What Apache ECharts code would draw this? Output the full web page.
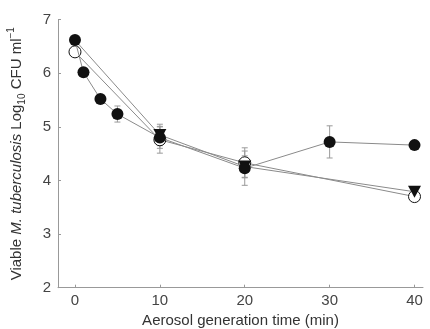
<!DOCTYPE html>
<html><head><meta charset="utf-8">
<script src="https://cdn.jsdelivr.net/npm/echarts@6/dist/echarts.min.js"></script>
<style>html,body{margin:0;padding:0;background:#fff}#c{width:430px;height:329px}</style>
</head><body><div id="c"></div>
<script>
// Data
var timeFilled = [0, 1, 3, 5, 10, 20, 30, 40];
var valFilled  = [6.62, 6.02, 5.52, 5.24, 4.80, 4.23, 4.72, 4.66];
var errFilled  = [0.05, 0.08, 0.05, 0.15, 0.2, 0.32, 0.3, 0.05];
var timeTri = [0, 10, 20, 40];
var valTri  = [6.62, 4.85, 4.26, 3.79];
var errTri  = [0.05, 0.2, 0.2, 0.05];
var timeOpen = [0, 10, 20, 40];
var valOpen  = [6.40, 4.76, 4.33, 3.70];
var errOpen  = [0.05, 0.25, 0.28, 0.05];
var xTicks = [0, 10, 20, 30, 40];

function pts(t, v) { return t.map(function (x, i) { return [x, v[i]]; }); }
function errs(t, v, e) { return t.map(function (x, i) { return [x, v[i] - e[i], v[i] + e[i]]; }); }

var lineGray = '#8a8a8a';
var errGray = '#9a9a9a';

function errorSeries(data) {
  return {
    type: 'custom', z: 1,
    data: data,
    renderItem: function (params, api) {
      var x = api.value(0), lo = api.value(1), hi = api.value(2);
      var p1 = api.coord([x, lo]), p2 = api.coord([x, hi]);
      var w = 3;
      return { type: 'group', children: [
        { type: 'line', shape: { x1: p1[0], y1: p1[1], x2: p2[0], y2: p2[1] }, style: { stroke: errGray, lineWidth: 1 } },
        { type: 'line', shape: { x1: p1[0] - w, y1: p1[1], x2: p1[0] + w, y2: p1[1] }, style: { stroke: errGray, lineWidth: 1 } },
        { type: 'line', shape: { x1: p2[0] - w, y1: p2[1], x2: p2[0] + w, y2: p2[1] }, style: { stroke: errGray, lineWidth: 1 } }
      ]};
    }
  };
}

var chart = echarts.init(document.getElementById('c'));
chart.setOption({
  animation: false,
  grid: { left: 58, right: 7, top: 19.7, bottom: 41.3, containLabel: false, outerBoundsMode: 'none' },
  textStyle: { fontFamily: 'Liberation Sans, Arial, sans-serif' },
  xAxis: {
    type: 'value', min: -2, max: 41,
    name: 'Aerosol generation time (min)', nameLocation: 'middle', nameGap: 25,
    nameTextStyle: { fontSize: 15, color: '#333' },
    axisLine: { onZero: false, lineStyle: { color: '#999', width: 1 } },
    axisTick: { inside: true, length: 3, lineStyle: { color: '#999' }, customValues: xTicks },
    axisLabel: { fontSize: 15, color: '#444', margin: 6, customValues: xTicks },
    splitLine: { show: false }
  },
  yAxis: {
    type: 'value', min: 2, max: 7, interval: 1,
    name: '{n|Viable }{i|M. tuberculosis}{n| Log}{sub|10}{n| CFU ml}{sup|−1}',
    nameLocation: 'middle', nameGap: 34,
    nameTextStyle: {
      rich: {
        n: { fontSize: 15, color: '#333', fontFamily: 'Liberation Sans', lineHeight: 18, verticalAlign: 'bottom' },
        i: { fontSize: 15, color: '#333', fontStyle: 'italic', fontFamily: 'Liberation Sans', lineHeight: 18, verticalAlign: 'bottom' },
        sub: { fontSize: 10, color: '#333', fontFamily: 'Liberation Sans', lineHeight: 12, verticalAlign: 'bottom', padding: [0, 0, -3, 0] },
        sup: { fontSize: 10, color: '#333', fontFamily: 'Liberation Sans', lineHeight: 12, verticalAlign: 'top', padding: [0, 0, 5, 0] }
      }
    },
    axisLine: { show: true, onZero: false, lineStyle: { color: '#999', width: 1 } },
    axisTick: { show: true, inside: true, length: 3, lineStyle: { color: '#999' } },
    axisLabel: { fontSize: 15, color: '#444', margin: 7 },
    splitLine: { show: false }
  },
  series: [
    errorSeries(errs(timeOpen, valOpen, errOpen)),
    errorSeries(errs(timeTri, valTri, errTri)),
    errorSeries(errs(timeFilled, valFilled, errFilled)),
    {
      type: 'line', z: 3, data: pts(timeOpen, valOpen), symbol: 'circle', symbolSize: 12,
      lineStyle: { color: lineGray, width: 1 },
      itemStyle: { color: '#fff', borderColor: '#111', borderWidth: 1 }
    },
    {
      type: 'line', z: 4, data: pts(timeTri, valTri), symbol: 'triangle', symbolRotate: 180,
      symbolSize: function (v, p) { return p.dataIndex === 0 ? 0 : [13, 12]; },
      lineStyle: { color: lineGray, width: 1 },
      itemStyle: { color: '#111' }
    },
    {
      type: 'line', z: 5, data: pts(timeFilled, valFilled), symbol: 'circle', symbolSize: 12,
      lineStyle: { color: lineGray, width: 1 },
      itemStyle: { color: '#111' }
    }
  ]
});
</script>
</body></html>
